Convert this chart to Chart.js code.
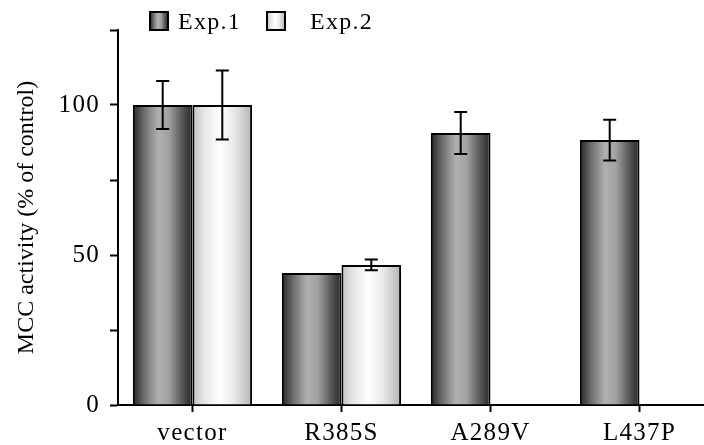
<!DOCTYPE html>
<html>
<head>
<meta charset="utf-8">
<script src="https://cdn.jsdelivr.net/npm/chart.js@4.4.1/dist/chart.umd.min.js"></script>
<style>
  html, body { margin: 0; padding: 0; background: #fff; overflow: hidden; }
  #wrap { width: 714px; height: 445px; }
</style>
</head>
<body>
<div id="wrap"><canvas id="mccChart" width="714" height="445"></canvas></div>
<script>
const categories = ["vector", "R385S", "A289V", "L437P"];
const seriesNames = ["Exp.1", "Exp.2"];
const exp1Values = [100, 44, 90.7, 88.3];
const exp2Values = [100, 46.7, null, null];
const exp1Errors = [8, 0, 7, 6.8];
const exp2Errors = [11.5, 1.8, null, null];
const yLabelledTicks = [0, 50, 100];

const serif = "'Liberation Serif', 'DejaVu Serif', serif";

// cylinder-like shading, left to right across one bar
const darkStops = [[0, "#262626"], [0.18, "#6a6a6a"], [0.42, "#b0b0b0"], [0.6, "#a2a2a2"], [0.85, "#505050"], [1, "#262626"]];
const lightStops = [[0, "#c0c0c0"], [0.18, "#e4e4e4"], [0.45, "#ffffff"], [0.7, "#e8e8e8"], [1, "#b4b4b4"]];

function barFill(stops) {
  return (c) => {
    const chart = c.chart;
    const xs = chart.scales.x;
    if (c.type !== "data" || !xs || !chart.chartArea) return stops[2][1];
    const band = (xs.right - xs.left) / categories.length;
    const w = band * 0.8 / 2;
    const left = xs.getPixelForValue(c.dataIndex) - w + c.datasetIndex * w;
    const g = chart.ctx.createLinearGradient(left, 0, left + w, 0);
    stops.forEach(([o, col]) => g.addColorStop(o, col));
    return g;
  };
}

const spacingPlugin = {
  id: "spacing",
  beforeDraw(chart) {
    chart.ctx.letterSpacing = "1.3px";
    const y = chart.scales.y;
    if (y && !y._plainTitle) {
      const orig = y.drawTitle.bind(y);
      y.drawTitle = function () {
        const c = this.ctx;
        const s = c.letterSpacing;
        c.letterSpacing = "0px";
        orig();
        c.letterSpacing = s;
      };
      y._plainTitle = true;
    }
  }
};

const errorBarPlugin = {
  id: "errorBars",
  afterDatasetsDraw(chart) {
    const ctx = chart.ctx;
    const ys = chart.scales.y;
    const errs = [exp1Errors, exp2Errors];
    ctx.save();
    ctx.strokeStyle = "#000";
    ctx.lineWidth = 2;
    chart.data.datasets.forEach((ds, di) => {
      chart.getDatasetMeta(di).data.forEach((bar, i) => {
        const v = ds.data[i];
        const e = errs[di][i];
        if (v == null || !e) return;
        const top = ys.getPixelForValue(v + e);
        const bot = ys.getPixelForValue(v - e);
        const x = bar.x;
        ctx.beginPath();
        ctx.moveTo(x, top); ctx.lineTo(x, bot);
        ctx.moveTo(x - 6.5, top); ctx.lineTo(x + 6.5, top);
        ctx.moveTo(x - 6.5, bot); ctx.lineTo(x + 6.5, bot);
        ctx.stroke();
      });
    });
    ctx.restore();
  }
};

const legendPlugin = {
  id: "expLegend",
  afterDraw(chart) {
    const ctx = chart.ctx;
    const items = [
      { box: 150, text: 178, stops: darkStops },
      { box: 267, text: 310, stops: lightStops }
    ];
    ctx.save();
    items.forEach((it, i) => {
      const g = ctx.createLinearGradient(it.box, 0, it.box + 18, 0);
      it.stops.forEach(([o, col]) => g.addColorStop(o, col));
      ctx.fillStyle = g;
      ctx.fillRect(it.box, 12, 18, 18);
      ctx.strokeStyle = "#000";
      ctx.lineWidth = 2;
      ctx.strokeRect(it.box, 12, 18, 18);
      ctx.fillStyle = "#000";
      ctx.font = "24px " + serif;
      ctx.letterSpacing = "1.3px";
      ctx.textBaseline = "alphabetic";
      ctx.textAlign = "left";
      ctx.fillText(seriesNames[i], it.text, 29);
    });
    ctx.restore();
  }
};

new Chart(document.getElementById("mccChart"), {
  type: "bar",
  data: {
    labels: categories,
    datasets: [
      {
        label: seriesNames[0],
        data: exp1Values,
        backgroundColor: barFill(darkStops),
        borderColor: "#000",
        borderWidth: 2,
        categoryPercentage: 0.8,
        barPercentage: 1.0
      },
      {
        label: seriesNames[1],
        data: exp2Values,
        backgroundColor: barFill(lightStops),
        borderColor: "#000",
        borderWidth: 2,
        categoryPercentage: 0.8,
        barPercentage: 1.0
      }
    ]
  },
  options: {
    responsive: false,
    animation: false,
    devicePixelRatio: 1,
    layout: { padding: { top: 30, left: 0, right: 0, bottom: 0 } },
    plugins: {
      legend: { display: false },
      tooltip: { enabled: false }
    },
    scales: {
      x: {
        offset: true,
        grid: { offset: false, drawOnChartArea: false, drawTicks: true, tickLength: 7, tickWidth: 2, color: "#000" },
        border: { display: true, color: "#000", width: 2 },
        ticks: { color: "#000", font: { family: serif, size: 25 }, padding: 6, maxRotation: 0 },
        afterFit(scale) { scale.height = 40; }
      },
      y: {
        min: 0,
        max: 125,
        grid: { drawOnChartArea: false, drawTicks: true, tickLength: 8, tickWidth: 2, color: "#000" },
        border: { display: true, color: "#000", width: 2 },
        ticks: {
          stepSize: 25,
          color: "#000",
          font: { family: serif, size: 25 },
          padding: 10,
          callback: (v) => (yLabelledTicks.includes(v) ? String(v) : "")
        },
        title: {
          display: true,
          text: "MCC activity (% of control)",
          color: "#000",
          font: { family: serif, size: 24, lineHeight: 1 },
          padding: { top: 15, bottom: 0 }
        },
        afterFit(scale) { scale.width = 118; }
      }
    }
  },
  plugins: [spacingPlugin, errorBarPlugin, legendPlugin]
});
</script>
</body>
</html>
